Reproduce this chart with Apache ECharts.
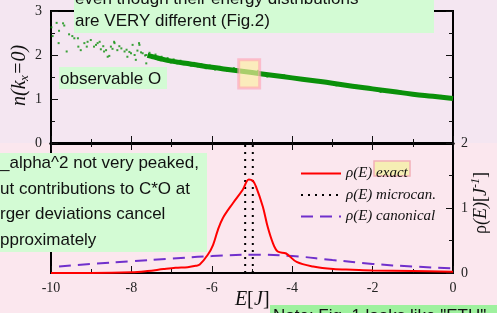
<!DOCTYPE html>
<html>
<head>
<meta charset="utf-8">
<script src="https://cdn.jsdelivr.net/npm/echarts@6/dist/echarts.min.js"></script>
<style>
  html, body { margin: 0; padding: 0; }
  #main { width: 497px; height: 313px; background: linear-gradient(to bottom, #f4e6f1 0, #f4e6f1 143px, #fbe7ee 143px, #fbe7ee 313px); }
</style>
</head>
<body>
<div id="main"></div>
<script>
// --- top panel: n(kx=0) of eigenstates vs energy ---
var scatterE = [-9.99, -9.86, -9.70, -9.67, -9.80, -9.96, -9.81, -9.61, -9.55, -9.47, -9.42, -9.33, -9.32, -9.26,
  -9.17, -9.11, -9.09, -9.01, -8.93, -8.88, -8.84, -8.79, -8.76, -8.70, -8.68, -8.63, -8.59, -8.55, -8.51, -8.47,
  -8.43, -8.42, -8.35, -8.30, -8.25, -8.17, -8.12, -8.10, -8.05, -8.01, -7.97, -7.92, -7.89, -7.85, -7.81, -7.80,
  -7.76, -7.72, -7.66, -7.63, -7.63, -7.55, -7.48, -7.40, -7.33, -7.25, -7.18, -7.10, -7.02, -6.95, -6.86, -6.78,
  -6.70, -6.61, -6.52, -6.44, -6.35, -6.26, -6.15, -6.05, -5.92, -5.80, -5.62, -5.45, -4.85, -4.62, -4.20, -3.85,
  -3.30, -2.90, -2.40, -1.80, -1.30, -0.70, -0.30];
var scatterN = [2.63, 2.73, 2.72, 2.67, 2.55, 2.43, 2.27, 2.08, 2.47, 2.43, 2.38, 2.38, 2.19, 2.11,
  2.27, 2.19, 2.30, 2.34, 2.19, 2.23, 2.27, 2.30, 2.13, 2.20, 2.08, 2.11, 1.96, 1.98, 2.19, 2.14,
  2.30, 2.27, 2.11, 2.20, 2.15, 2.08, 2.12, 1.96, 2.07, 2.04, 2.23, 2.00, 1.89, 2.10, 2.27, 2.23,
  2.06, 2.04, 1.99, 2.00, 1.81, 2.05, 1.93, 2.01, 1.90, 1.96, 1.87, 1.93, 1.83, 1.90, 1.81, 1.87,
  1.79, 1.84, 1.76, 1.82, 1.74, 1.79, 1.70, 1.76, 1.67, 1.73, 1.64, 1.70, 1.64, 1.51, 1.54, 1.45,
  1.42, 1.31, 1.30, 1.16, 1.17, 1.05, 1.07];
// dense part of the cloud
var bandE = [-7.6, -7.3, -7.0, -6.5, -6.0, -5.5, -5.0, -4.5, -4.0, -3.5, -3.0, -2.5, -2.0, -1.5, -1.0, -0.5, 0.0];
var bandN = [1.99, 1.92, 1.86, 1.79, 1.72, 1.66, 1.60, 1.54, 1.48, 1.42, 1.36, 1.29, 1.23, 1.17, 1.11, 1.06, 1.01];

// --- bottom panel: energy distributions rho(E) ---
var exactE = [-10, -9, -8, -7.6, -7.2, -6.9, -6.6, -6.4, -6.3, -6.1, -5.97, -5.85, -5.73, -5.48, -5.23, -5.08,
  -4.98, -4.9, -4.73, -4.61, -4.48, -4.36, -4.15, -3.89, -3.48, -2.98, -2.5, -2.0, -1.0, 0];
var exactRho = [0.0, 0.0, 0.01, 0.03, 0.06, 0.08, 0.09, 0.11, 0.13, 0.28, 0.43, 0.66, 0.84, 1.07, 1.28, 1.44,
  1.42, 1.33, 1.02, 0.71, 0.46, 0.33, 0.30, 0.17, 0.10, 0.06, 0.05, 0.04, 0.03, 0.02];
var canonE = [-9.8, -9, -8, -7, -6, -5, -4, -3, -2, -1, 0];
var canonRho = [0.10, 0.14, 0.18, 0.22, 0.26, 0.28, 0.26, 0.20, 0.14, 0.10, 0.07];
var microE = [-5.17, -4.98];
var rhoSpan = [0, 2];

var xTicks = [-10, -8, -6, -4, -2, 0];
var nTicks = [0, 1, 2, 3];
var rhoTicks = [0, 1, 2];
var legendNames = { exact: 'ρ(E) exact', microcan: 'ρ(E) microcan.', canonical: 'ρ(E) canonical' };

function pairs(xs, ys) { return xs.map(function (x, i) { return [x, ys[i]]; }); }

var serif = '"Liberation Serif", "DejaVu Serif", serif';
var sans = '"Liberation Sans", Arial, sans-serif';

var myChart = echarts.init(document.getElementById('main'));

// fresh objects for every axis
var tickStyle = function () { return { inside: true, length: 7, lineStyle: { color: '#111', width: 1 } }; };
var minor = function () { return { show: true, splitNumber: 2, length: 4, lineStyle: { color: '#111', width: 1 } }; };
var lineAx = function (w) { return { show: true, onZero: false, lineStyle: { color: '#000', width: w } }; };
var tickLabel = function (m) { return { margin: m, fontSize: 14, color: '#222', fontFamily: 'Liberation Serif' }; };

var microSeries = microE.map(function (e) {
  return {
    name: 'microcan', type: 'line', xAxisIndex: 2, yAxisIndex: 2,
    symbol: 'none', silent: true, z: 3,
    lineStyle: { color: '#000', width: 2, type: [2, 5] },
    data: rhoSpan.map(function (r) { return [e, r]; })
  };
});

function note(x, y, text) {
  return { type: 'text', z: 101, silent: true, x: x, y: y,
    style: { text: text, font: '17px ' + sans, fill: '#111', textVerticalAlign: 'middle' } };
}
function box(x, y, w, h, c) {
  return { type: 'rect', z: 100, silent: true, shape: { x: x, y: y, width: w, height: h }, style: { fill: c } };
}
// one piece of an axis title; rot = rotate to read bottom-to-top
function piece(x, y, text, size, italic, rot) {
  return { type: 'text', silent: true, x: x, y: y, rotation: rot ? Math.PI / 2 : 0,
    style: { text: text, font: (italic ? 'italic ' : '') + size + 'px ' + serif, fill: '#111',
      textAlign: 'left', textVerticalAlign: 'middle' } };
}

var option = {
  backgroundColor: 'transparent',
  animation: false,
  grid: [
    { left: 51, top: 11, width: 402, height: 132, show: true, borderColor: '#000', borderWidth: 2, backgroundColor: 'transparent' },
    { left: 51, top: 143, width: 402, height: 130, show: true, borderColor: '#000', borderWidth: 2, backgroundColor: 'transparent' }
  ],
  xAxis: [
    { gridIndex: 0, type: 'value', min: xTicks[0], max: xTicks[xTicks.length - 1], interval: 2, position: 'bottom',
      axisLine: lineAx(3), axisTick: tickStyle(), minorTick: minor(), axisLabel: { show: false }, splitLine: { show: false } },
    { gridIndex: 0, type: 'value', min: -10, max: 0, interval: 2, position: 'top',
      axisLine: lineAx(2), axisTick: { show: false }, axisLabel: { show: false }, splitLine: { show: false } },
    { gridIndex: 1, type: 'value', min: xTicks[0], max: xTicks[xTicks.length - 1], interval: 2, position: 'bottom',
      axisLine: lineAx(2), axisTick: tickStyle(), minorTick: minor(), splitLine: { show: false }, axisLabel: tickLabel(8) },
    { gridIndex: 1, type: 'value', min: -10, max: 0, interval: 2, position: 'top',
      axisLine: lineAx(3), axisTick: tickStyle(), minorTick: minor(), axisLabel: { show: false }, splitLine: { show: false } }
  ],
  yAxis: [
    { gridIndex: 0, type: 'value', min: nTicks[0], max: nTicks[nTicks.length - 1], interval: 1, position: 'left',
      axisLine: lineAx(2), axisTick: tickStyle(), minorTick: minor(), splitLine: { show: false }, axisLabel: tickLabel(9) },
    { gridIndex: 0, type: 'value', min: 0, max: 3, interval: 1, position: 'right',
      axisLine: lineAx(2), axisTick: tickStyle(), minorTick: minor(), axisLabel: { show: false }, splitLine: { show: false } },
    { gridIndex: 1, type: 'value', min: rhoTicks[0], max: rhoTicks[rhoTicks.length - 1], interval: 1, position: 'right',
      axisLine: lineAx(2), axisTick: tickStyle(), minorTick: minor(), splitLine: { show: false }, axisLabel: tickLabel(8) },
    { gridIndex: 1, type: 'value', min: 0, max: 2, interval: 1, position: 'left',
      axisLine: lineAx(2), axisTick: tickStyle(), minorTick: minor(), axisLabel: { show: false }, splitLine: { show: false } }
  ],
  legend: {
    data: ['exact', 'microcan', 'canonical'],
    orient: 'vertical', left: 295, top: 161,
    itemWidth: 40, itemHeight: 14, itemGap: 6.5,
    selectedMode: false,
    itemStyle: { color: 'rgba(0,0,0,0)', borderWidth: 0 },
    formatter: function (name) { return legendNames[name]; },
    textStyle: { fontFamily: 'Liberation Serif', fontSize: 15, fontStyle: 'italic', color: '#111' }
  },
  graphic: [
    // highlight behind "exact" in the legend
    { type: 'rect', z: 1, silent: true, shape: { x: 374, y: 161, width: 36, height: 15 },
      style: { fill: '#f6eeb4', stroke: '#f2b0b8', lineWidth: 1.5 } },
    // axis titles
    piece(20, 106, 'n(k', 20, true, true),
    piece(25, 81, 'x', 13, true, true),
    piece(20, 75, '=0)', 20, true, true),
    piece(481, 234, 'ρ', 18, false, true),
    piece(481, 225, '(E)', 18, true, true),
    piece(481, 202, '[', 18, false, true),
    piece(481, 196, 'J', 18, true, true),
    piece(476, 188, '-1', 12, true, true),
    piece(481, 178, ']', 18, false, true),
    piece(235, 300, 'E', 20, true, false),
    piece(247, 300, '[', 20, false, false),
    piece(254, 300, 'J', 20, true, false),
    piece(263, 300, ']', 20, false, false),
    // annotation boxes
    box(74, 0, 360, 33, '#d3fbd4'),
    note(75, -1, 'even though their energy distributions'),
    note(75, 21, 'are VERY different (Fig.2)'),
    box(59, 67, 108, 22, '#d3fbd4'),
    note(60, 79, 'observable O'),
    box(0, 153, 207, 99, '#d3fbd4'),
    note(0, 163, '_alpha^2 not very peaked,'),
    note(0, 189, 'ut contributions to C*O at'),
    note(0, 214, 'rger deviations cancel'),
    note(0, 240, 'pproximately'),
    box(270, 305, 227, 8, '#9ef19e'),
    note(273, 316, 'Note: Fig. 1 looks like "ETH"')
  ],
  series: [
    {
      name: 'eigenstates', type: 'scatter', xAxisIndex: 0, yAxisIndex: 0,
      symbol: 'rect', symbolSize: 2, itemStyle: { color: '#0a900a' }, silent: true,
      data: pairs(scatterE, scatterN),
      markArea: {
        silent: true, z: 5,
        itemStyle: { color: 'rgba(255, 240, 160, 0.65)', borderColor: 'rgba(255, 160, 180, 0.6)', borderWidth: 3 },
        data: [[{ coord: [-5.33, 1.89] }, { coord: [-4.81, 1.25] }]]
      }
    },
    {
      name: 'band', type: 'line', xAxisIndex: 0, yAxisIndex: 0, symbol: 'none', smooth: true, silent: true,
      lineStyle: { color: '#0a900a', width: 5 },
      data: pairs(bandE, bandN)
    },
    {
      name: 'exact', type: 'line', xAxisIndex: 2, yAxisIndex: 2, symbol: 'none', smooth: 0.35, z: 4,
      lineStyle: { color: '#ff0000', width: 2 },
      data: pairs(exactE, exactRho)
    },
    microSeries[0],
    microSeries[1],
    {
      name: 'canonical', type: 'line', xAxisIndex: 2, yAxisIndex: 2, symbol: 'none', smooth: true,
      lineStyle: { color: '#7030cc', width: 2, type: [12, 7] },
      data: pairs(canonE, canonRho)
    }
  ]
};

myChart.setOption(option);
</script>
</body>
</html>
